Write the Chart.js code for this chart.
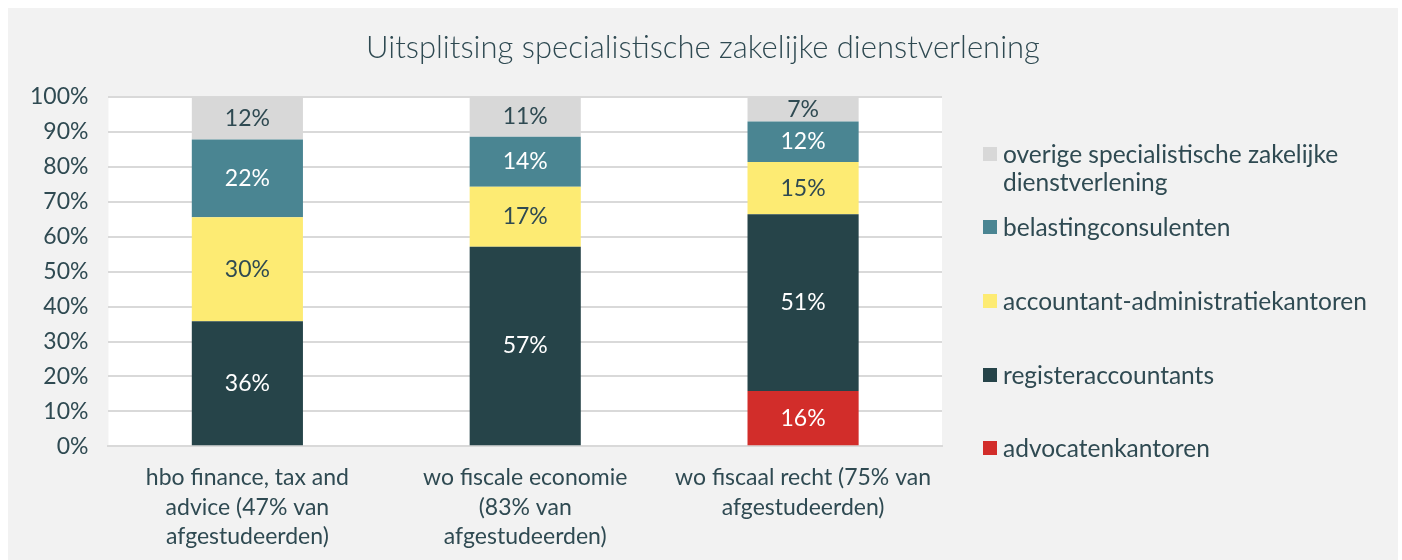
<!DOCTYPE html>
<html>
<head>
<meta charset="utf-8">
<script src="https://cdn.jsdelivr.net/npm/chart.js@4"></script>
<style>
  body { margin: 0; background: #fff; overflow: hidden; }
  #panel { position: absolute; left: 8px; top: 8px; width: 1390px; height: 552px; background: #f2f2f2; }
  #title { position: absolute; left: 0; top: 19px; width: 1390px; text-align: center; font-family: Lato, sans-serif; font-weight: 300; font-size: 31px; color: #2f4a52; }
  #legend { position: absolute; left: 975px; top: 134px; width: 420px; font-family: Lato, sans-serif; font-size: 24.5px; color: #2f4a52; }
  .item { position: absolute; padding-left: 20px; line-height: 28px; width: 400px; }
  .box { position: absolute; left: 0; top: 7px; width: 14px; height: 14px; }
</style>
</head>
<body>
<div id="panel">
  <canvas id="myChart" width="1390" height="552"></canvas>
  <div id="title">Uitsplitsing specialistische zakelijke dienstverlening</div>
  <div id="legend"></div>
</div>
<script>
const categories = [
  ["hbo finance, tax and", "advice (47% van", "afgestudeerden)"],
  ["wo fiscale economie", "(83% van", "afgestudeerden)"],
  ["wo fiscaal recht (75% van", "afgestudeerden)"]
];
const advocaten = [0, 0, 15.8];
const registeraccountants = [35.8, 57.1, 50.6];
const accountantAdmin = [29.8, 17.2, 15.0];
const belastingconsulenten = [22.2, 14.3, 11.6];
const overige = [12.2, 11.4, 7.0];
const yTicks = [0, 10, 20, 30, 40, 50, 60, 70, 80, 90, 100];

const textColor = "#2f4a52";

const datasets = [
  { label: "advocatenkantoren", data: advocaten, backgroundColor: "#d22d2a", labelColor: "#fff" },
  { label: "registeraccountants", data: registeraccountants, backgroundColor: "#264449", labelColor: "#fff" },
  { label: "accountant-administratiekantoren", data: accountantAdmin, backgroundColor: "#fdeb73", labelColor: textColor },
  { label: "belastingconsulenten", data: belastingconsulenten, backgroundColor: "#4a8592", labelColor: "#fff" },
  { label: "overige specialistische zakelijke dienstverlening", data: overige, backgroundColor: "#d8d8d8", labelColor: textColor }
];

// white plot area
const plotBg = {
  id: "plotBg",
  beforeDraw(chart) {
    const a = chart.chartArea;
    chart.ctx.save();
    chart.ctx.fillStyle = "#fff";
    chart.ctx.fillRect(a.left, a.top, a.right - a.left, a.bottom - a.top);
    chart.ctx.restore();
  }
};

// value labels in the middle of each segment
const barLabels = {
  id: "barLabels",
  afterDatasetsDraw(chart) {
    const ctx = chart.ctx;
    ctx.save();
    ctx.font = "23px Lato";
    ctx.textAlign = "center";
    ctx.textBaseline = "middle";
    chart.data.datasets.forEach((ds, i) => {
      chart.getDatasetMeta(i).data.forEach((bar, j) => {
        const v = ds.data[j];
        if (!v) return;
        ctx.fillStyle = ds.labelColor;
        ctx.fillText(Math.round(v) + "%", bar.x, (bar.y + bar.base) / 2);
      });
    });
    ctx.restore();
  }
};

new Chart(document.getElementById("myChart"), {
  type: "bar",
  data: {
    labels: categories,
    datasets: datasets.map((d) => ({
      label: d.label,
      data: d.data,
      backgroundColor: d.backgroundColor,
      labelColor: d.labelColor,
      barPercentage: 0.4,
      categoryPercentage: 1
    }))
  },
  options: {
    responsive: false,
    animation: false,
    layout: { padding: { left: 2, right: 456, top: 89, bottom: 0 } },
    plugins: {
      legend: { display: false },
      tooltip: { enabled: false },
      title: { display: false }
    },
    scales: {
      x: {
        stacked: true,
        grid: { display: false },
        border: { color: "#d9d9d9", width: 2 },
        ticks: { color: textColor, font: { family: "Lato", size: 23, lineHeight: 1.3 }, maxRotation: 0, padding: 8 }
      },
      y: {
        stacked: true,
        min: 0,
        max: 100,
        afterBuildTicks: (axis) => { axis.ticks = yTicks.map((v) => ({ value: v })); },
        grid: { color: "#d9d9d9", lineWidth: 2, drawTicks: false },
        border: { display: false },
        ticks: { color: textColor, font: { family: "Lato", size: 23 }, padding: 20, callback: (v) => v + "%" }
      }
    }
  },
  plugins: [plotBg, barLabels]
});

// legend on the right, top item first
const legend = document.getElementById("legend");
const tops = [-2, 71, 145, 219, 292];
datasets.slice().reverse().forEach((d, i) => {
  const div = document.createElement("div");
  div.className = "item";
  div.style.top = tops[i] + "px";
  div.innerHTML = '<span class="box" style="background:' + d.backgroundColor + '"></span>' + d.label;
  legend.appendChild(div);
});
</script>
</body>
</html>
